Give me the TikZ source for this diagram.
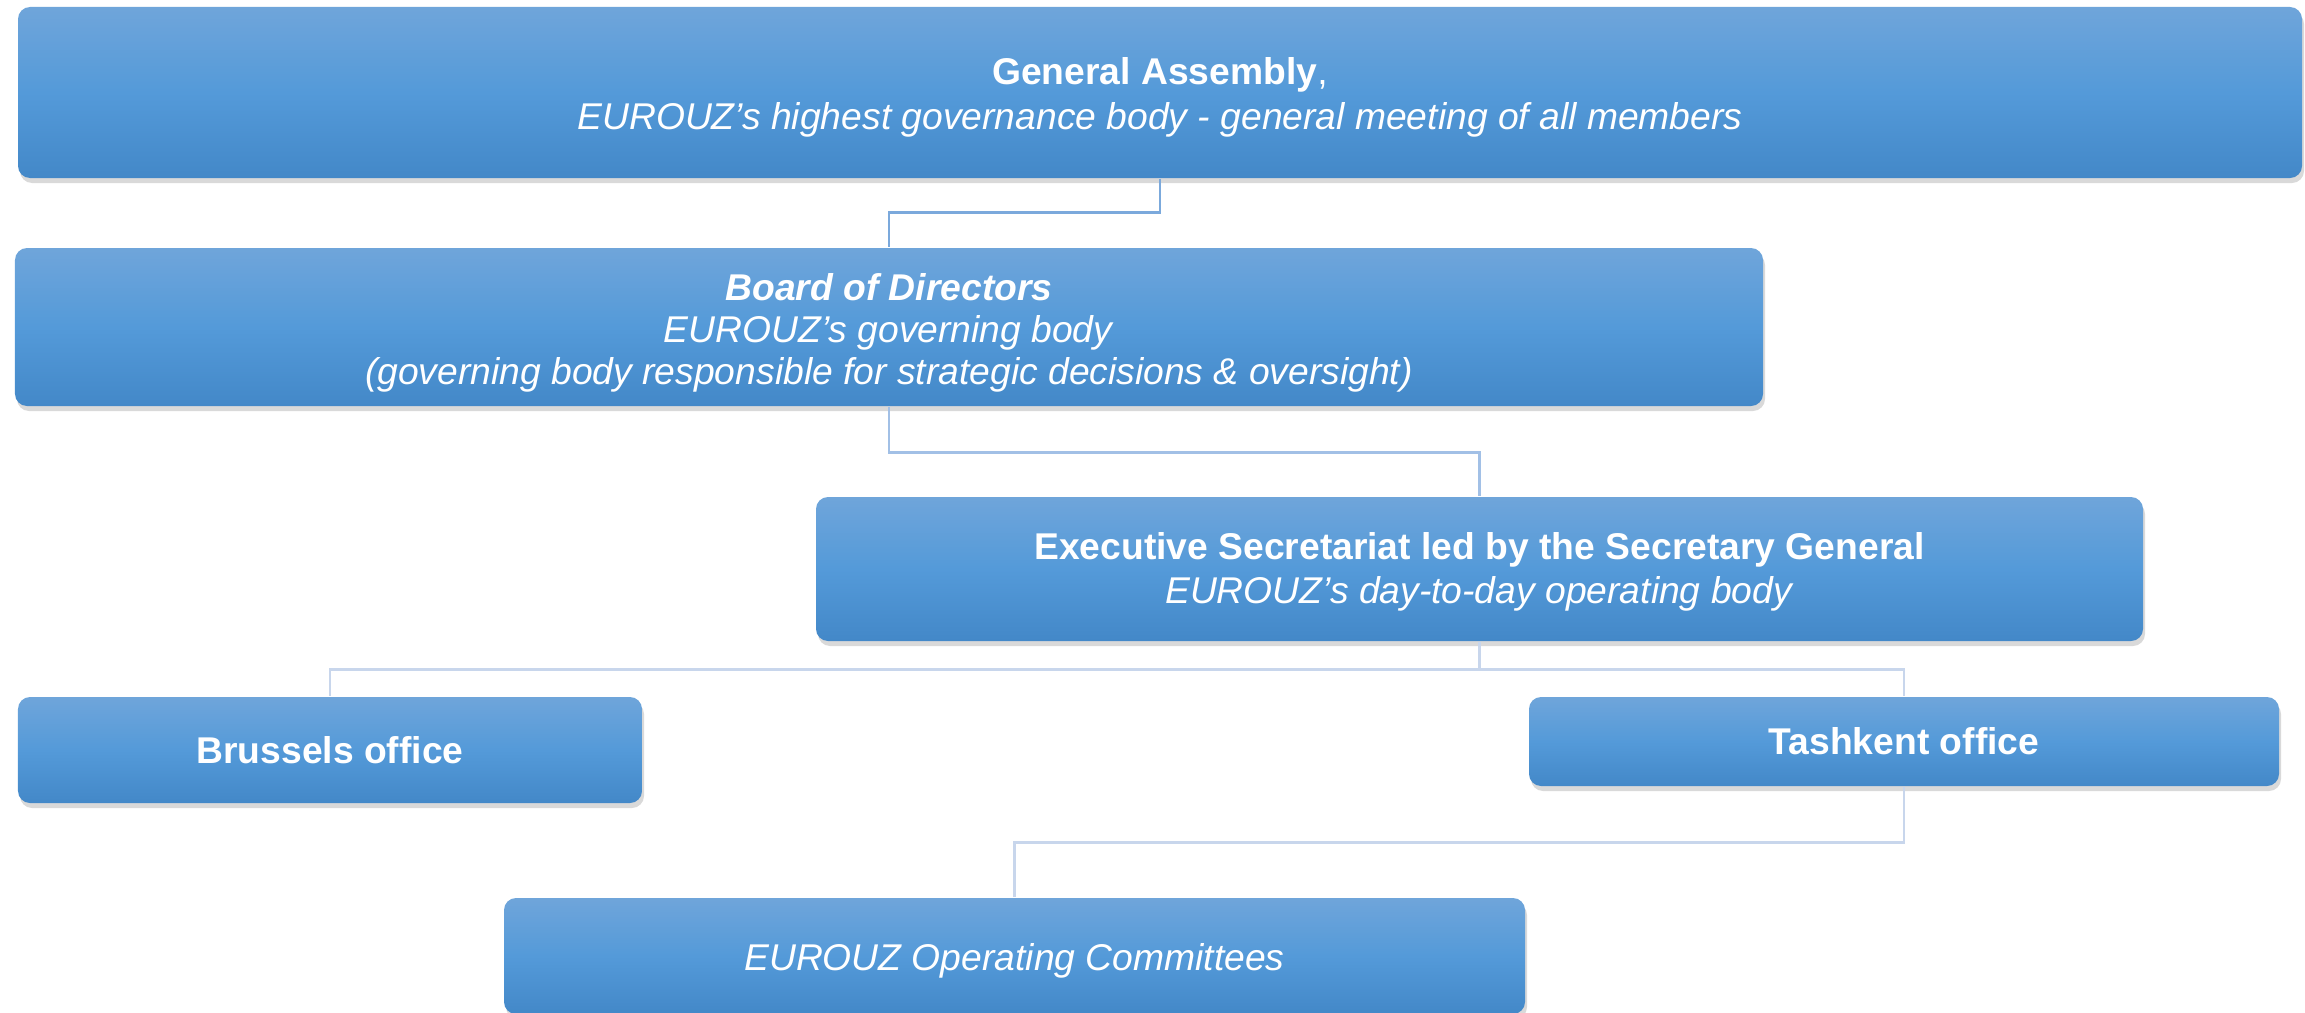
\documentclass[tikz,border=0pt]{standalone}
\usepackage{fontspec}
\setmainfont{Liberation Sans}
\usetikzlibrary{shadows}
\definecolor{boxtop}{HTML}{6FA5DA}
\definecolor{boxmid}{HTML}{549AD9}
\definecolor{boxbot}{HTML}{4388C8}
\definecolor{linedark}{HTML}{7BA9DC}
\definecolor{linemid}{HTML}{A2C0E6}
\definecolor{linelight}{HTML}{C8D6EC}
\newcommand{\lift}[1]{\rule{0pt}{#1}}

\begin{document}
\begin{tikzpicture}
% Node styles ---
\tikzstyle{unit} = [rectangle, rounded corners = 0.12cm, top color = boxtop, bottom color = boxbot, middle color = boxmid, draw = none, text = white, align = center, inner sep = 0pt, font = \fontsize{10.6}{12.6}\selectfont, drop shadow = {shadow xshift = 0.02cm, shadow yshift = -0.05cm, opacity = 0.3}]
\tikzstyle{linkA} = [draw = linedark, line width = 0.025cm]
\tikzstyle{linkB} = [draw = linemid, line width = 0.025cm]
\tikzstyle{linkC} = [draw = linelight, line width = 0.025cm]
% Begin Figure ---
\useasboundingbox (0,0) rectangle (23.05,-10.13);
% Nodes
\node at (+11.60,-0.925) [unit, minimum width = 22.84cm, minimum height = 1.71cm, font = \fontsize{10.6}{13.0}\selectfont] (ga) {\lift{10.4pt}\textbf{General Assembly},\\ \textit{EUROUZ’s highest governance body - general meeting of all members}};
\node at (+8.89,-3.27) [unit, minimum width = 17.48cm, minimum height = 1.58cm, font = \fontsize{10.6}{12.0}\selectfont] (bod) {\lift{11.2pt}\textbf{\textit{Board of Directors}}\\ \textit{EUROUZ’s governing body}\\ \textit{(governing body responsible for strategic decisions \& oversight)}};
\node at (+14.795,-5.69) [unit, minimum width = 13.27cm, minimum height = 1.44cm] (exe) {\lift{9.5pt}\textbf{Executive Secretariat led by the Secretary General}\\ \textit{EUROUZ’s day-to-day operating body}};
\node at (+3.30,-7.50) [unit, minimum width = 6.24cm, minimum height = 1.06cm] (bru) {\textbf{Brussels office}};
\node at (+19.04,-7.415) [unit, minimum width = 7.50cm, minimum height = 0.89cm] (tas) {\textbf{Tashkent office}};
\node at (+10.145,-9.56) [unit, minimum width = 10.21cm, minimum height = 1.16cm] (com) {\lift{10.3pt}\textit{EUROUZ Operating Committees}};
% Paths
\draw [linkA] (ga.south) -- ++(0,-0.34) -| (bod.north);
\draw [linkB] (bod.south) -- ++(0,-0.46) -| (exe.north);
\draw [linkC] (exe.south) -- ++(0,-0.28) -| (bru.north);
\draw [linkC] (exe.south) -- ++(0,-0.28) -| (tas.north);
\draw [linkC] (tas.south) -- ++(0,-0.56) -| (com.north);
\end{tikzpicture}
\end{document}
